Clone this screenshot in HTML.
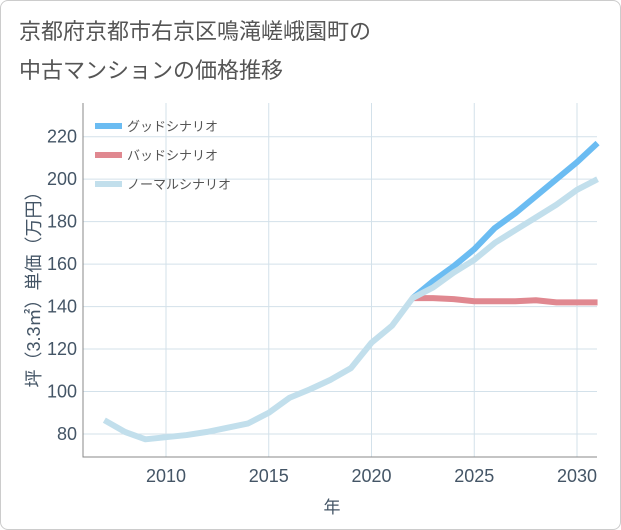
<!DOCTYPE html>
<html><head><meta charset="utf-8"><style>
body{margin:0;background:#fff;font-family:"Liberation Sans","Noto Sans CJK JP",sans-serif;}
#card{position:absolute;left:0;top:0;width:619px;height:528px;border:1px solid #ccc;border-radius:8px;background:#fff;}
#title{position:absolute;left:18px;top:11px;font-size:22px;line-height:39px;color:#555;}
</style></head><body>
<div id="card">
<div id="title">京都府京都市右京区鳴滝嵯峨園町の<br>中古マンションの価格推移</div>
<svg id="chart" width="621" height="530" style="position:absolute;left:-1px;top:-1px"></svg>
</div>
<script>
const years=[2007,2008,2009,2010,2011,2012,2013,2014,2015,2016,2017,2018,2019,2020,2021,2022,2023,2024,2025,2026,2027,2028,2029,2030,2031];
const normal=[86.5,81,77.5,78.5,79.5,81,83,85,90,97,101,105.5,111,123,131,144,149,156,162,170,176,182,188,195,200];
const scenYears=[2022,2023,2024,2025,2026,2027,2028,2029,2030,2031];
const good=[144,152,159,167,177,184,192,200,208,217];
const bad=[144,144,143.5,142.5,142.5,142.5,143,142,142,142];
const yTicks=[80,100,120,140,160,180,200,220];
const xTicks=[2010,2015,2020,2025,2030];
const NS="http://www.w3.org/2000/svg";
const svg=document.getElementById('chart');
const L=83,R=597,T=103,B=457;
const x=v=>166+(v-2010)*20.55;
const y=v=>434-(v-80)*(297.3/140);
function el(t,a){const e=document.createElementNS(NS,t);for(const k in a)e.setAttribute(k,a[k]);svg.appendChild(e);return e;}
yTicks.forEach(v=>{
 const g=el('line',{x1:L,x2:R,y1:y(v),y2:y(v),stroke:'#d3e1ea','stroke-width':1});
 
 
 const t=el('text',{x:L-6,y:y(v)+6,'text-anchor':'end','font-size':18,fill:'#445566'});t.textContent=v;
 
 
});
xTicks.forEach(v=>{
 const g=el('line',{x1:x(v),x2:x(v),y1:T,y2:B,stroke:'#d3e1ea','stroke-width':1});
 
 
 const t=el('text',{x:x(v),y:B+25,'text-anchor':'middle','font-size':18,fill:'#445566'});t.textContent=v;
 
 
});
const ax=el('path',{d:`M${L},${T}V${B}H${R}`,fill:'none',stroke:'#888','stroke-width':1});


function line(xs,vs,c,n){const p=el('polyline',{points:xs.map((v,i)=>x(v)+','+y(vs[i])).join(' '),fill:'none',stroke:c,'stroke-width':6,'stroke-linejoin':'round'});
 
 }
line(scenYears,good,'#6bbcf2','good-scenario-line');
line(scenYears,bad,'#e08890','bad-scenario-line');
line(years,normal,'#c2dfec','normal-scenario-line');
const leg=[['グッドシナリオ','#6bbcf2'],['バッドシナリオ','#e08890'],['ノーマルシナリオ','#c2dfec']];
leg.forEach((d,i)=>{
 const yy=126+i*29;
 const s=el('line',{x1:95,x2:122,y1:yy,y2:yy,stroke:d[1],'stroke-width':6});
 
 
 const t=el('text',{x:127,y:yy+5,'font-size':13,fill:'#555'});t.textContent=d[0];
 
 
});
const yt=el('text',{transform:`translate(40,${(T+B)/2+5}) rotate(-90)`,'text-anchor':'middle','font-size':18,fill:'#445566'});
yt.textContent='坪（3.3㎡）単価（万円）';


const xt=el('text',{x:332,y:513,'text-anchor':'middle','font-size':17,fill:'#445566'});
xt.textContent='年';


</script>
</body></html>
